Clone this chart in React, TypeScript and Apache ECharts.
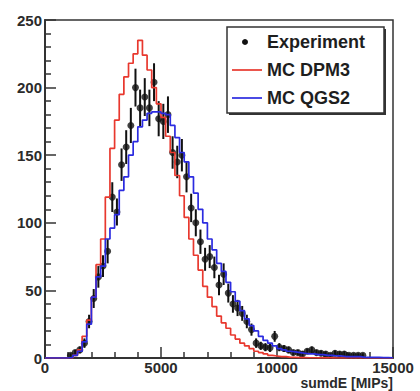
import React, { useEffect, useRef } from "react";
import * as echarts from "echarts";

// Histogram binning (bin edges every 200 MIPs from 0 to 15000)
const BIN_WIDTH = 200;
const X_MIN = 0;
const X_MAX = 15000;
const Y_MAX = 250;

const xTickLabels = ["0", "5000", "10000", "15000"];
const yTickLabels = ["0", "50", "100", "150", "200", "250"];

// MC DPM3 (red) counts per bin
const dpm3Counts = [
  0, 0, 0, 0, 0, 0, 2, 6, 16, 28,
  45, 69, 88, 119, 155, 176, 195, 208, 218, 225,
  235, 224, 213, 200, 188, 178, 164, 152, 135, 120,
  104, 88, 76, 65, 53, 45, 38, 31, 26, 22,
  17, 14, 11, 9, 7, 5, 4, 3, 2, 1.5,
  1, 1, 0.5, 0.5, 0.3, 0.3, 0.2, 0.2, 0.1, 0.1,
  0.1, 0.1, 0, 0, 0, 0, 0, 0, 0, 0,
  0, 0, 0, 0, 0,
];

// MC QGS2 (blue) counts per bin
const qgs2Counts = [
  0, 0, 0, 0, 0, 0.5, 2, 5, 12, 25,
  45, 60, 68, 88, 96, 106, 124, 134, 150, 160,
  171, 176, 181, 182, 182, 181, 180, 172, 163, 152,
  145, 134, 122, 110, 100, 88, 80, 70, 64, 56,
  49, 42, 35, 29, 24, 20, 16, 13, 11, 9,
  7, 6, 5, 4.5, 4, 3.5, 3, 3, 2.5, 2.5,
  2, 2, 1.5, 1.5, 1, 1, 1, 1, 0.5, 0.5,
  0.5, 0.5, 0.3, 0.3, 0.2,
];

// Experiment counts per bin (null = no point)
const expCounts = [
  null, null, null, null, null, 2, 4, 6, 11, 27,
  44, 60, 68, 79, 119, 108, 143, 156, 172, 200,
  185, 193, 185, 204, 177, 175, 180, 152, 145, 150,
  134, 111, 100, 86, 73, 75, 67, 54, 62, 48,
  40, 37, 33, 27, 21, 11, 9, 8, 7.5, 16,
  8, 7, 6, 4, 4, 3, 5, 6, 4, 3.5,
  3, 2, 3.5, 3, 3, 2, 2, 2, 2, null,
  null, null, null, null, null,
];

// Experiment errors per bin
const expErrors = [
  null, null, null, null, null, 1.5, 2, 2.5, 3.5, 5,
  7, 8, 8, 9, 11, 10, 12, 12.5, 13, 14,
  13.5, 14, 13.5, 14, 13, 13, 13.5, 12, 12, 12,
  11.5, 10.5, 10, 9, 8.5, 8.5, 8, 7.5, 8, 7,
  6.5, 6, 5.5, 5, 4.5, 3.5, 3, 3, 3, 4,
  3, 2.5, 2.5, 2, 2, 2, 2, 2.5, 2, 2,
  2, 1.5, 2, 2, 2, 1.5, 1.5, 1.5, 1.5, null,
  null, null, null, null, null,
];

const seriesNames = ["Experiment", "MC DPM3", "MC QGS2"];
const axisTitle = "sumdE [MIPs]";

const RED = "#e8382e";
const BLUE = "#2b2be0";
const TEXT = "#2b2b2b";
const FONT = "Liberation Sans, Arial, sans-serif";

function histData(counts: number[]) {
  const pts: number[][] = counts.map((c, i) => [X_MIN + i * BIN_WIDTH, c]);
  pts.push([X_MIN + counts.length * BIN_WIDTH, counts[counts.length - 1]]);
  return pts;
}

function expData() {
  const pts: number[][] = [];
  expCounts.forEach((c, i) => {
    if (c === null) return;
    pts.push([X_MIN + (i + 0.5) * BIN_WIDTH, c as number, expErrors[i] as number]);
  });
  return pts;
}

export default function App() {
  const ref = useRef<HTMLDivElement>(null);
  useEffect(() => {
    if (!ref.current) return;
    const chart = echarts.init(ref.current, null, { renderer: "svg" });
    const exp = expData();
    const gridLeft = 45;
    const gridRight = 27;
    const gridTop = 20;
    const gridBottom = 33;

    const legendX = 227;
    const legendY = 27;
    const legendW = 157;
    const legendH = 86;

    chart.setOption({
      animation: false,
      backgroundColor: "#ffffff",
      grid: {
        left: gridLeft,
        right: gridRight,
        top: gridTop,
        bottom: gridBottom,
        show: true,
        borderColor: "#333",
        borderWidth: 1.5,
        backgroundColor: "transparent",
      },
      xAxis: {
        type: "value",
        min: X_MIN,
        max: X_MAX,
        interval: 5000,
        splitLine: { show: false },
        axisLine: { show: true, onZero: false, lineStyle: { color: "#333", width: 2 } },
        axisTick: { show: true, inside: true, length: 11, lineStyle: { color: "#333", width: 1.5 } },
        minorTick: { show: true, splitNumber: 5, length: 6, lineStyle: { color: "#333", width: 1.5 } },
        axisLabel: {
          color: TEXT,
          fontSize: 15,
          fontWeight: "bold",
          fontFamily: FONT,
          margin: 2,
          formatter: (v: number) => {
            const idx = Math.round(v / 5000);
            return xTickLabels[idx] ?? "";
          },
        },
      },
      yAxis: {
        type: "value",
        min: 0,
        max: Y_MAX,
        interval: 50,
        splitLine: { show: false },
        axisLine: { show: true, onZero: false, lineStyle: { color: "#333", width: 2 } },
        axisTick: { show: true, inside: true, length: 11, lineStyle: { color: "#333", width: 1.5 } },
        minorTick: { show: true, splitNumber: 5, length: 6, lineStyle: { color: "#333", width: 1.5 } },
        axisLabel: {
          color: TEXT,
          fontSize: 15,
          fontWeight: "bold",
          fontFamily: FONT,
          margin: 3,
          formatter: (v: number) => {
            const idx = Math.round(v / 50);
            return yTickLabels[idx] ?? "";
          },
        },
      },
      series: [
        {
          name: seriesNames[0] + " errors",
          type: "custom",
          data: exp,
          z: 2,
          renderItem: (params: any, api: any) => {
            const x = api.value(0);
            const y = api.value(1);
            const e = api.value(2);
            const top = api.coord([x, y + e]);
            const bot = api.coord([x, Math.max(0, y - e)]);
            return {
              type: "line",
              shape: { x1: top[0], y1: top[1], x2: bot[0], y2: bot[1] },
              style: { stroke: "#111", lineWidth: 2 },
            };
          },
        },
        {
          name: seriesNames[0],
          type: "scatter",
          data: exp.map((p) => [p[0], p[1]]),
          symbol: "circle",
          symbolSize: 7,
          itemStyle: { color: "#111" },
          z: 3,
        },
        {
          name: seriesNames[1],
          type: "line",
          step: "end",
          data: histData(dpm3Counts),
          showSymbol: false,
          symbol: "none",
          lineStyle: { color: RED, width: 1.7 },
          z: 4,
        },
        {
          name: seriesNames[2],
          type: "line",
          step: "end",
          data: histData(qgs2Counts),
          showSymbol: false,
          symbol: "none",
          lineStyle: { color: BLUE, width: 1.7 },
          z: 5,
        },
      ],
      graphic: [
        {
          type: "text",
          right: 420 - 393,
          top: 376,
          style: {
            text: axisTitle,
            fill: TEXT,
            font: `bold 14px ${FONT}`,
          },
        },
        {
          type: "rect",
          shape: { x: legendX + 2, y: legendY + 2, width: legendW, height: legendH },
          style: { fill: "#333" },
          z: 10,
        },
        {
          type: "rect",
          shape: { x: legendX, y: legendY, width: legendW, height: legendH },
          style: { fill: "#fff", stroke: "#333", lineWidth: 1.5 },
          z: 11,
        },
        {
          type: "circle",
          shape: { cx: 245, cy: 42, r: 3 },
          style: { fill: "#111" },
          z: 12,
        },
        {
          type: "line",
          shape: { x1: 232, y1: 70, x2: 262, y2: 70 },
          style: { stroke: RED, lineWidth: 1.7 },
          z: 12,
        },
        {
          type: "line",
          shape: { x1: 232, y1: 98, x2: 262, y2: 98 },
          style: { stroke: BLUE, lineWidth: 1.7 },
          z: 12,
        },
        ...seriesNames.map((n, i) => ({
          type: "text",
          x: 267,
          y: 42 + i * 28,
          z: 12,
          style: {
            text: n,
            fill: "#1e1e1e",
            font: `bold 18px ${FONT}`,
            textVerticalAlign: "middle",
            verticalAlign: "middle",
          },
        })),
      ],
    });
    return () => chart.dispose();
  }, []);
  return (
    <div
      ref={ref}
      style={{ position: "fixed", left: 0, top: 0, width: 420, height: 391, background: "#fff" }}
    />
  );
}
